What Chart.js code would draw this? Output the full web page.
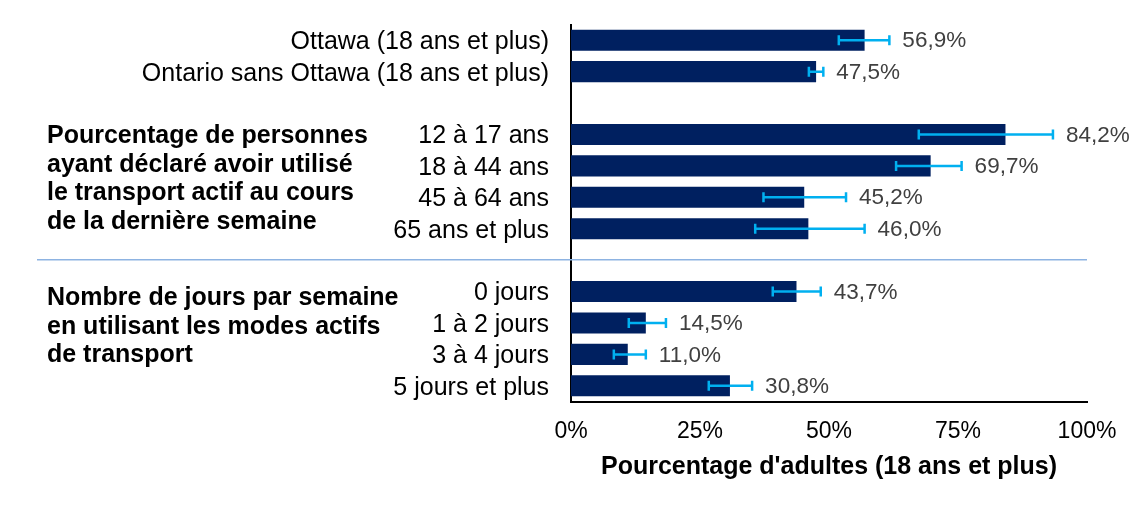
<!DOCTYPE html>
<html lang="fr">
<head>
<meta charset="utf-8">
<script src="https://cdn.jsdelivr.net/npm/chart.js@4"></script>
<style>
  html, body { margin: 0; padding: 0; background: #fff; }
  #wrap { width: 1144px; height: 507px; }
</style>
</head>
<body>
<div id="wrap"><canvas id="chart"></canvas></div>
<script>
// ── Data (empty strings / nulls are the gaps between groups) ──
const categories = [
    'Ottawa (18 ans et plus)',
    'Ontario sans Ottawa (18 ans et plus)',
    '',
    '12 à 17 ans',
    '18 à 44 ans',
    '45 à 64 ans',
    '65 ans et plus',
    '',
    '0 jours',
    '1 à 2 jours',
    '3 à 4 jours',
    '5 jours et plus'
];
const values  = [56.9, 47.5, null, 84.2, 69.7, 45.2, 46.0, null, 43.7, 14.5, 11.0, 30.8];
const errLow  = [51.9, 46.1, null, 67.4, 63.0, 37.3, 35.7, null, 39.1, 11.2,  8.3, 26.7];
const errHigh = [61.7, 48.9, null, 93.4, 75.7, 53.3, 56.9, null, 48.4, 18.4, 14.5, 35.1];
const xTicks = [0, 25, 50, 75, 100];

const groupLabels = [
    { row: 3, lines: ['Pourcentage de personnes', 'ayant déclaré avoir utilisé', 'le transport actif au cours', 'de la dernière semaine'] },
    { row: 8, lines: ['Nombre de jours par semaine', 'en utilisant les modes actifs', 'de transport'] }
];
const separatorRows = [7];

const FONT = "'Liberation Sans', Arial, sans-serif";

// ── Error bars, value labels, group captions, separator ──
const overlayPlugin = {
    id: 'overlay',
    afterDatasetsDraw(chart) {
        const { ctx, scales: { x, y }, chartArea } = chart;
        ctx.save();

        // error bars
        ctx.strokeStyle = '#00b0f0';
        ctx.lineWidth = 2.5;
        values.forEach((v, i) => {
            if (v === null) return;
            const cy = y.getPixelForValue(i);
            const x0 = x.getPixelForValue(errLow[i]);
            const x1 = x.getPixelForValue(errHigh[i]);
            ctx.beginPath();
            ctx.moveTo(x0, cy); ctx.lineTo(x1, cy);
            ctx.moveTo(x0, cy - 5); ctx.lineTo(x0, cy + 5);
            ctx.moveTo(x1, cy - 5); ctx.lineTo(x1, cy + 5);
            ctx.stroke();
        });

        // value labels
        ctx.fillStyle = '#404040';
        ctx.font = `22.5px ${FONT}`;
        ctx.textAlign = 'left';
        ctx.textBaseline = 'middle';
        values.forEach((v, i) => {
            if (v === null) return;
            const cy = y.getPixelForValue(i);
            const lx = Math.max(x.getPixelForValue(errHigh[i]), x.getPixelForValue(v)) + 13;
            ctx.fillText(v.toFixed(1).replace('.', ',') + '%', lx, cy + 1);
        });

        // separator
        ctx.strokeStyle = '#8db3e2';
        ctx.lineWidth = 1.5;
        separatorRows.forEach(r => {
            const sy = y.getPixelForValue(r) - 0.5;
            ctx.beginPath();
            ctx.moveTo(37, sy);
            ctx.lineTo(chartArea.right, sy);
            ctx.stroke();
        });

        // group captions
        ctx.fillStyle = '#000';
        ctx.font = `bold 25px ${FONT}`;
        groupLabels.forEach((g, gi) => {
            const y0 = y.getPixelForValue(g.row) + (gi === 1 ? 7 : 2);
            g.lines.forEach((line, li) => ctx.fillText(line, 47, y0 + li * 28.5));
        });

        ctx.restore();
    }
};

new Chart(document.getElementById('chart'), {
    type: 'bar',
    data: {
        labels: categories,
        datasets: [{
            data: values,
            backgroundColor: '#002060',
            borderWidth: 0,
            categoryPercentage: 1,
            barPercentage: 0.67
        }]
    },
    options: {
        indexAxis: 'y',
        responsive: true,
        maintainAspectRatio: false,
        animation: false,
        layout: { padding: { top: 24.5, right: 57, bottom: 0, left: 0 } },
        plugins: {
            legend: { display: false },
            tooltip: { enabled: false }
        },
        scales: {
            x: {
                min: 0,
                max: 100,
                afterBuildTicks: s => { s.ticks = xTicks.map(v => ({ value: v })); },
                afterFit: s => { s.height = 105.5; s.paddingLeft = 0; s.paddingRight = 0; },
                grid: { display: false, drawTicks: false },
                border: { display: true, color: '#000', width: 2 },
                ticks: {
                    padding: 16,
                    color: '#000',
                    font: { family: FONT, size: 23 },
                    callback: v => v + '%'
                },
                title: {
                    display: true,
                    text: "Pourcentage d'adultes (18 ans et plus)",
                    color: '#000',
                    font: { family: FONT, size: 25, weight: 'bold' },
                    padding: { top: 6, bottom: 25 }
                }
            },
            y: {
                afterFit: s => { s.width = 571; s.paddingTop = 0; s.paddingBottom = 0; },
                grid: { display: false, drawTicks: false },
                border: { display: true, color: '#000', width: 2 },
                ticks: {
                    padding: 22,
                    labelOffset: 2,
                    color: '#000',
                    autoSkip: false,
                    font: { family: FONT, size: 25 }
                }
            }
        }
    },
    plugins: [overlayPlugin]
});
</script>
</body>
</html>
